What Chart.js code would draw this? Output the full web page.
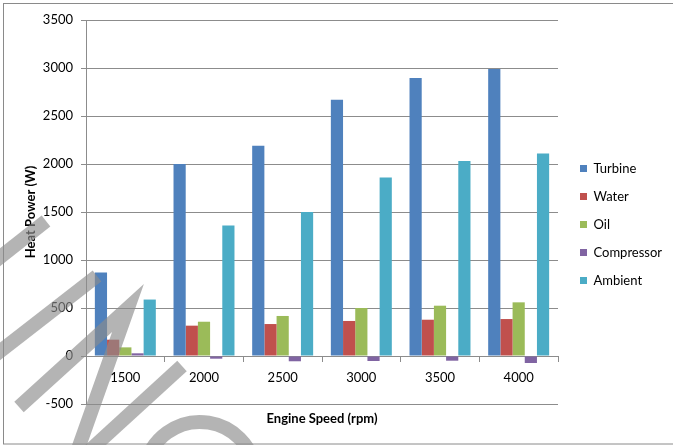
<!DOCTYPE html>
<html>
<head>
<meta charset="utf-8">
<script src="https://cdn.jsdelivr.net/npm/chart.js@4.4.0/dist/chart.umd.min.js"></script>
<style>
  html, body { margin: 0; padding: 0; background: #ffffff; }
  #wrap { width: 673px; height: 445px; position: relative; }
</style>
</head>
<body>
<div id="wrap"><canvas id="c" width="673" height="445"></canvas></div>
<script>
// Engine speed categories (rpm)
const categories = ['1500', '2000', '2500', '3000', '3500', '4000'];

// Heat power per path (W)
const turbine    = [870, 2000, 2190, 2670, 2895, 2990];
const water      = [170, 316, 333, 365, 378, 385];
const oil        = [90, 357, 417, 500, 524, 559];
const compressor = [28, -28, -55, -52, -49, -73];
const ambient    = [588, 1360, 1500, 1860, 2030, 2110];

const seriesNames = ['Turbine', 'Water', 'Oil', 'Compressor', 'Ambient'];

// Value axis range and tick step
const yRange = [-500, 3500];
const yStep = 500;

const FONT = 'Lato, "Open Sans", "Liberation Sans", sans-serif';
const colors = ['#4F81BD', '#C0504D', '#9BBB59', '#8064A2', '#4BACC6'];
const seriesValues = [turbine, water, oil, compressor, ambient];

// Legend width depends on the widest label; size the right padding from it
const measureCtx = document.createElement('canvas').getContext('2d');
measureCtx.font = '13px ' + FONT;
const widest = Math.max(...seriesNames.map(n => measureCtx.measureText(n).width));
const legendWidth = 15 + 7 + 6.5 + widest + 10;
const legendLeft = 565;
const rightPad = Math.max(0, 673 - legendLeft - legendWidth);

// Outer frame of the chart object
const framePlugin = {
  id: 'frame',
  beforeDraw(chart) {
    const ctx = chart.ctx;
    ctx.save();
    ctx.fillStyle = '#ffffff';
    ctx.fillRect(0, 0, chart.width, chart.height);
    ctx.strokeStyle = '#8a8a8a';
    ctx.lineWidth = 1;
    ctx.strokeRect(3.5, 3.5, chart.width + 10, chart.height - 4.5);
    ctx.restore();
  }
};

// Translucent grey stamp strokes laid over the lower-left corner
const stampPlugin = {
  id: 'stamp',
  afterDraw(chart) {
    const ctx = chart.ctx;
    ctx.save();
    ctx.strokeStyle = 'rgba(140,140,140,0.65)';
    ctx.lineWidth = 14;
    ctx.lineCap = 'butt';
    ctx.lineJoin = 'miter';
    const segs = [
      [[46, 221], [-6, 262]],
      [[97, 276], [-6, 356]],
      [[19, 407], [128, 308], [77, 452]],
      [[182, 366], [88, 452]]
    ];
    segs.forEach(pts => {
      ctx.beginPath();
      ctx.moveTo(pts[0][0], pts[0][1]);
      for (let i = 1; i < pts.length; i++) ctx.lineTo(pts[i][0], pts[i][1]);
      ctx.stroke();
    });
    ctx.beginPath();
    ctx.arc(200, 478, 56, Math.PI * 1.05, Math.PI * 1.95);
    ctx.stroke();
    ctx.restore();
  }
};

new Chart(document.getElementById('c'), {
  type: 'bar',
  data: {
    labels: categories,
    datasets: seriesNames.map((name, i) => ({
      label: name,
      data: seriesValues[i],
      backgroundColor: colors[i],
      borderWidth: 0,
      categoryPercentage: 0.775,
      barPercentage: 1.0
    }))
  },
  options: {
    responsive: false,
    animation: false,
    devicePixelRatio: 1,
    layout: { padding: { left: 3, top: 20, right: rightPad, bottom: 16 } },
    plugins: {
      legend: {
        position: 'right',
        labels: {
          boxWidth: 7,
          boxHeight: 7,
          padding: 15,
          color: '#000000',
          font: { family: FONT, size: 13 }
        }
      },
      title: {
        display: true,
        position: 'bottom',
        fullSize: false,
        text: 'Engine Speed (rpm)',
        color: '#000000',
        font: { family: FONT, size: 13, weight: 'bold' },
        padding: { top: 7, bottom: 2.4 }
      },
      tooltip: { enabled: false }
    },
    scales: {
      x: {
        position: { y: 0 },
        afterFit(s) { s.height = 0; },
        grid: {
          display: true,
          drawOnChartArea: false,
          drawTicks: true,
          tickLength: 5,
          offset: true,
          color: '#8c8c8c'
        },
        border: { display: true, color: '#8c8c8c' },
        ticks: {
          color: '#000000',
          font: { family: FONT, size: 13 },
          padding: 9,
          maxRotation: 0,
          autoSkip: false
        }
      },
      y: {
        min: yRange[0],
        max: yRange[1],
        afterFit(s) { s.width = 83; },
        ticks: {
          stepSize: yStep,
          color: '#000000',
          font: { family: FONT, size: 13 },
          padding: 8,
          callback: v => String(v)
        },
        grid: {
          color: '#8c8c8c',
          tickLength: 5
        },
        border: { display: true, color: '#8c8c8c' },
        title: {
          display: true,
          text: 'Heat Power (W)',
          color: '#000000',
          font: { family: FONT, size: 13, weight: 'bold' },
          padding: { top: 20.2, bottom: 0 }
        }
      },
      gap: {
        type: 'linear',
        position: 'right',
        display: true,
        grid: { display: false },
        border: { display: false },
        ticks: { display: false },
        afterFit(s) { s.width = legendLeft - 558; }
      }
    }
  },
  plugins: [framePlugin, stampPlugin]
});
</script>
</body>
</html>
